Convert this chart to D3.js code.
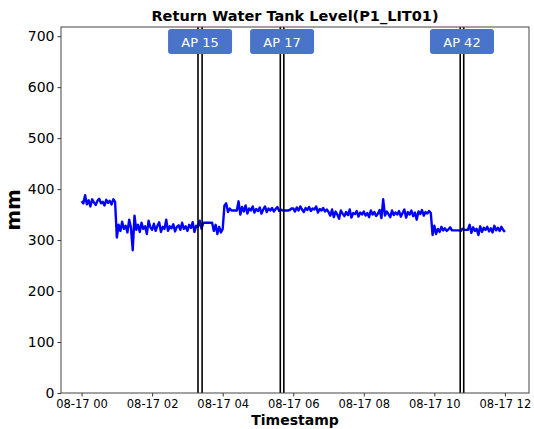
<!DOCTYPE html>
<html>
<head>
<meta charset="utf-8">
<script src="https://cdn.jsdelivr.net/npm/d3@7"></script>
<style>
  body { margin: 0; background: #fff; }
  text { font-family: "DejaVu Sans", sans-serif; }
</style>
</head>
<body>
<svg id="chart" width="534" height="429"></svg>
<script>
// one sample every 3 minutes, 08-17 00:00 -> 08-17 12:00
const stepMinutes = 3;
const levels = [
  // 00h
  376, 372, 388, 370, 378, 366, 380, 374, 369, 377, 381, 372, 375, 368, 379, 373, 377, 370, 380, 375,
  // 01h
  305, 330, 318, 336, 322, 328, 315, 340, 324, 280, 348, 320, 330, 316, 334, 322, 327, 312, 338, 325,
  // 02h
  320, 332, 318, 328, 335, 316, 326, 322, 340, 318, 327, 323, 331, 317, 326, 329, 320, 334, 322, 327,
  // 03h
  318, 330, 324, 335, 316, 328, 326, 338, 322, 334, 334, 334, 334, 334, 334, 318, 330, 312, 326, 315,
  // 04h
  322, 368, 372, 355, 362, 358, 358, 358, 358, 376, 350, 365, 356, 368, 352, 362, 358, 366, 354, 361,
  // 05h
  357, 364, 352, 360, 366, 355, 362, 358, 363, 356, 361, 365, 357, 360, 358, 358, 358, 358, 359, 362,
  // 06h
  362, 356, 364, 358, 366, 360, 355, 363, 359, 365, 357, 362, 360, 366, 354, 361, 358, 363, 356, 360,
  // 07h
  355, 348, 360, 345, 356, 350, 342, 358, 352, 347, 355, 349, 360, 344, 353, 351, 357, 346, 354, 350,
  // 08h
  356, 348, 353, 345, 358, 350, 355, 347, 352, 359, 343, 380, 348, 356, 351, 345, 358, 349, 354, 350,
  // 09h
  357, 346, 353, 360, 344, 355, 350, 358, 347, 354, 340, 356, 351, 359, 348, 355, 352, 357, 353, 310,
  // 10h
  328, 312, 322, 316, 326, 319, 323, 318, 321, 325, 319, 319, 319, 319, 319, 318, 322, 320, 320, 320,
  // 11h
  330, 314, 325, 318, 322, 310, 327, 316, 324, 320, 326, 317, 323, 315, 328, 319, 324, 318, 326, 320,
  // 12h
  316
];

const attacks = [
  { name: "AP 15", start: "2017-08-17T03:18", end: "2017-08-17T03:25" },
  { name: "AP 17", start: "2017-08-17T05:38", end: "2017-08-17T05:44" },
  { name: "AP 42", start: "2017-08-17T10:44", end: "2017-08-17T10:50" }
];

const yTicks = [0, 100, 200, 300, 400, 500, 600, 700];
const xTickHours = [0, 2, 4, 6, 8, 10, 12];

const t0 = new Date("2017-08-17T00:00");
const series = levels.map((v, i) => ({ time: new Date(+t0 + i * stepMinutes * 60000), value: v }));

const svg = d3.select("#chart");
const width = 534, height = 429;
const margin = { top: 27, right: 5, bottom: 36, left: 61 };
const innerWidth = width - margin.left - margin.right;
const innerHeight = height - margin.top - margin.bottom;

const x = d3.scaleTime()
  .domain([new Date("2017-08-16T23:25"), new Date("2017-08-17T12:41")])
  .range([0, innerWidth]);
const y = d3.scaleLinear().domain([0, 718]).range([innerHeight, 0]);

const g = svg.append("g").attr("transform", `translate(${margin.left},${margin.top})`);

const clip = svg.append("defs").append("clipPath").attr("id", "clip");
clip.append("rect").attr("width", innerWidth).attr("height", innerHeight);

const line = d3.line().x(d => x(d.time)).y(d => y(d.value));

g.append("g").attr("clip-path", "url(#clip)")
  .append("path")
  .datum(series)
  .attr("d", line)
  .attr("fill", "none")
  .attr("stroke", "#0000ff")
  .attr("stroke-width", 2.4)
  .attr("stroke-linejoin", "round");

// attack start / end markers
attacks.forEach(a => {
  [a.start, a.end].forEach(t => {
    g.append("line")
      .attr("x1", x(new Date(t))).attr("x2", x(new Date(t)))
      .attr("y1", 0).attr("y2", innerHeight)
      .attr("stroke", "#000")
      .attr("stroke-width", 1.6);
  });
});

// axes
const xTicks = xTickHours.map(h => new Date(+t0 + h * 3600000));
const xAxis = g.append("g")
  .attr("transform", `translate(0,${innerHeight})`)
  .call(d3.axisBottom(x).tickValues(xTicks).tickSize(3.5).tickPadding(3)
    .tickFormat(d3.timeFormat("%m-%d %H")));
xAxis.selectAll("text").style("font-size", "11.5px").attr("fill", "#000");

const yAxis = g.append("g")
  .call(d3.axisLeft(y).tickValues(yTicks).tickSize(3.5).tickPadding(3));
yAxis.selectAll("text").style("font-size", "14px").attr("fill", "#000");

[xAxis, yAxis].forEach(a => {
  a.select(".domain").remove();
  a.selectAll(".tick line").attr("stroke", "#333");
});

g.append("rect")
  .attr("width", innerWidth).attr("height", innerHeight)
  .attr("fill", "none").attr("stroke", "#444").attr("stroke-width", 1);

// labels on top of the markers
attacks.forEach(a => {
  const cx = (x(new Date(a.start)) + x(new Date(a.end))) / 2;
  g.append("rect")
    .attr("x", cx - 32).attr("y", 2)
    .attr("width", 64).attr("height", 25)
    .attr("rx", 3)
    .attr("fill", "#4a74c9");
  g.append("text")
    .attr("x", cx).attr("y", 15)
    .attr("dy", "0.35em")
    .attr("text-anchor", "middle")
    .attr("fill", "#fff")
    .style("font-size", "13px")
    .text(a.name);
});

svg.append("text")
  .attr("x", margin.left + innerWidth / 2).attr("y", 21)
  .attr("text-anchor", "middle")
  .style("font-size", "14.5px").style("font-weight", "bold")
  .text("Return Water Tank Level(P1_LIT01)");

svg.append("text")
  .attr("x", margin.left + innerWidth / 2).attr("y", 425)
  .attr("text-anchor", "middle")
  .style("font-size", "14px").style("font-weight", "bold")
  .text("Timestamp");

svg.append("text")
  .attr("transform", `translate(20,${margin.top + innerHeight / 2}) rotate(-90)`)
  .attr("text-anchor", "middle")
  .style("font-size", "20px").style("font-weight", "bold")
  .text("mm");
</script>
</body>
</html>
